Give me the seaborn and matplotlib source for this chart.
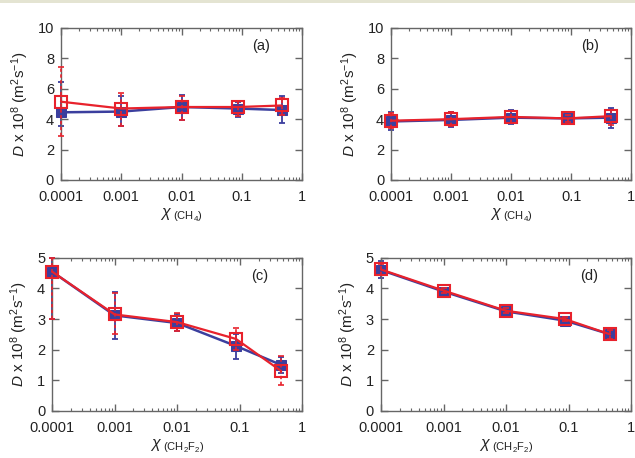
import numpy as np
import matplotlib
matplotlib.use("Agg")
import matplotlib.pyplot as plt
import seaborn as sns
from matplotlib.patches import Rectangle

# mole fractions
x_vals = [0.0001, 0.001, 0.01, 0.087, 0.46]

# (a) CH4
a_blue = [4.45, 4.5, 4.8, 4.7, 4.6]
a_blue_lo = [3.55, 3.55, 3.95, 4.15, 3.75]
a_blue_hi = [6.45, 5.5, 5.6, 5.15, 5.5]
a_red = [5.15, 4.7, 4.8, 4.8, 4.9]
a_red_lo = [2.9, 3.55, 3.95, 4.2, 4.3]
a_red_hi = [7.4, 5.7, 5.55, 5.2, 5.4]

# (b) CH4
b_blue = [3.85, 3.95, 4.1, 4.05, 4.1]
b_blue_lo = [3.3, 3.5, 3.7, 3.75, 3.45]
b_blue_hi = [4.5, 4.5, 4.6, 4.35, 4.75]
b_red = [3.9, 4.0, 4.15, 4.05, 4.2]
b_red_lo = [3.4, 3.55, 3.75, 3.8, 3.6]
b_red_hi = [4.4, 4.45, 4.55, 4.3, 4.6]

# (c) CH2F2
c_blue = [4.55, 3.12, 2.87, 2.12, 1.5]
c_blue_lo = [3.0, 2.35, 2.6, 1.68, 1.25]
c_blue_hi = [5.0, 3.9, 3.15, 2.5, 1.75]
c_red = [4.55, 3.15, 2.9, 2.35, 1.3]
c_red_lo = [3.0, 2.5, 2.6, 2.0, 0.85]
c_red_hi = [5.0, 3.85, 3.2, 2.7, 1.8]

# (d) CH2F2
d_blue = [4.6, 3.9, 3.25, 2.95, 2.5]
d_blue_lo = [4.35, 3.8, 3.15, 2.85, 2.3]
d_blue_hi = [4.9, 4.0, 3.35, 3.05, 2.7]
d_red = [4.62, 3.93, 3.27, 3.0, 2.5]
d_red_lo = [4.45, 3.85, 3.2, 2.92, 2.35]
d_red_hi = [4.8, 4.02, 3.35, 3.08, 2.65]

panel_labels = ["(a)", "(b)", "(c)", "(d)"]
xtick_vals = [0.0001, 0.001, 0.01, 0.1, 1]
xtick_labels = ["0.0001", "0.001", "0.01", "0.1", "1"]

sns.set_style("ticks")
plt.rcParams['font.family'] = ['Liberation Sans', 'DejaVu Sans']
plt.rcParams['mathtext.fontset'] = 'custom'
plt.rcParams['mathtext.rm'] = 'Liberation Sans'
plt.rcParams['mathtext.it'] = 'Liberation Sans:italic'

BLUE = "#3b3f9e"
RED = "#e8222c"
SPINE = "#666666"
TXT = "#222222"

fig = plt.figure(figsize=(6.35, 4.58), dpi=100)
fig.add_artist(Rectangle((0, 1 - 3 / 458), 1, 3 / 458, transform=fig.transFigure,
                         color="#e4e4d2", lw=0))

positions = [
    [0.096, 0.607, 0.380, 0.332],
    [0.616, 0.607, 0.378, 0.332],
    [0.082, 0.103, 0.394, 0.334],
    [0.600, 0.103, 0.394, 0.334],
]

panels = [
    (a_blue, a_blue_lo, a_blue_hi, a_red, a_red_lo, a_red_hi, 10, 2, "CH_4"),
    (b_blue, b_blue_lo, b_blue_hi, b_red, b_red_lo, b_red_hi, 10, 2, "CH_4"),
    (c_blue, c_blue_lo, c_blue_hi, c_red, c_red_lo, c_red_hi, 5, 1, "CH_2F_2"),
    (d_blue, d_blue_lo, d_blue_hi, d_red, d_red_lo, d_red_hi, 5, 1, "CH_2F_2"),
]

for pos, panel, lab in zip(positions, panels, panel_labels):
    bl, bl_lo, bl_hi, rd, rd_lo, rd_hi, ymax, ystep, species = panel
    ax = fig.add_axes(pos)
    ax.set_xscale("log")

    # blue: filled squares, solid error bars
    bl_arr = np.array(bl)
    eb = ax.errorbar(x_vals, bl, yerr=[bl_arr - np.array(bl_lo), np.array(bl_hi) - bl_arr],
                     fmt="none", ecolor=BLUE, elinewidth=1.3, capsize=2.5, capthick=1.3,
                     zorder=2)
    sns.lineplot(x=x_vals, y=bl, ax=ax, color=BLUE, lw=1.8, marker="s", markersize=7,
                 markerfacecolor=BLUE, markeredgecolor=BLUE, zorder=3, clip_on=False)

    # red: open squares, dashed error bars
    rd_arr = np.array(rd)
    er = ax.errorbar(x_vals, rd, yerr=[rd_arr - np.array(rd_lo), np.array(rd_hi) - rd_arr],
                     fmt="none", ecolor=RED, elinewidth=1.2, capsize=2.0, capthick=1.2,
                     zorder=4)
    er[2][0].set_linestyle((0, (2, 1.5)))
    sns.lineplot(x=x_vals, y=rd, ax=ax, color=RED, lw=1.6, marker="s", markersize=9,
                 markerfacecolor="none", markeredgecolor=RED, markeredgewidth=1.5,
                 zorder=5, clip_on=False)

    # let the error bars at the axis edge show in full
    for cont in (eb, er):
        for art in list(cont[1]) + list(cont[2]):
            art.set_clip_on(False)

    ax.set_xlim(0.0001, 1)
    ax.set_ylim(0, ymax)
    ax.set_xticks(xtick_vals)
    ax.set_xticklabels(xtick_labels)
    ax.set_yticks(np.arange(0, ymax + 0.1, ystep))
    ax.tick_params(which="both", direction="in", top=True, right=True,
                   labelsize=10.5, colors=TXT)
    ax.tick_params(axis="x", pad=7)
    ax.tick_params(axis="y", pad=5)
    ax.tick_params(which="major", length=5, width=1, color=SPINE)
    ax.tick_params(which="minor", length=2.5, width=0.8, color=SPINE)
    ax.tick_params(axis="y", which="minor", left=False, right=False)
    for s in ax.spines.values():
        s.set_color(SPINE)
        s.set_linewidth(1.0)
        s.set_visible(True)

    ax.set_ylabel(r"$D$ x 10$^{8}$ (m$^{2}$s$^{-1}$)", fontsize=11, color=TXT,
                  labelpad=5)
    ax.set_xlabel(r"$\chi$" + r"$_{\ (\mathrm{" + species + r"})}$", fontsize=11.5,
                  color=TXT, labelpad=2)
    ax.text(0.83, 0.88, lab, transform=ax.transAxes, fontsize=10.5, color=TXT,
            ha="center", va="center")

fig.savefig("out.png", dpi=100)
